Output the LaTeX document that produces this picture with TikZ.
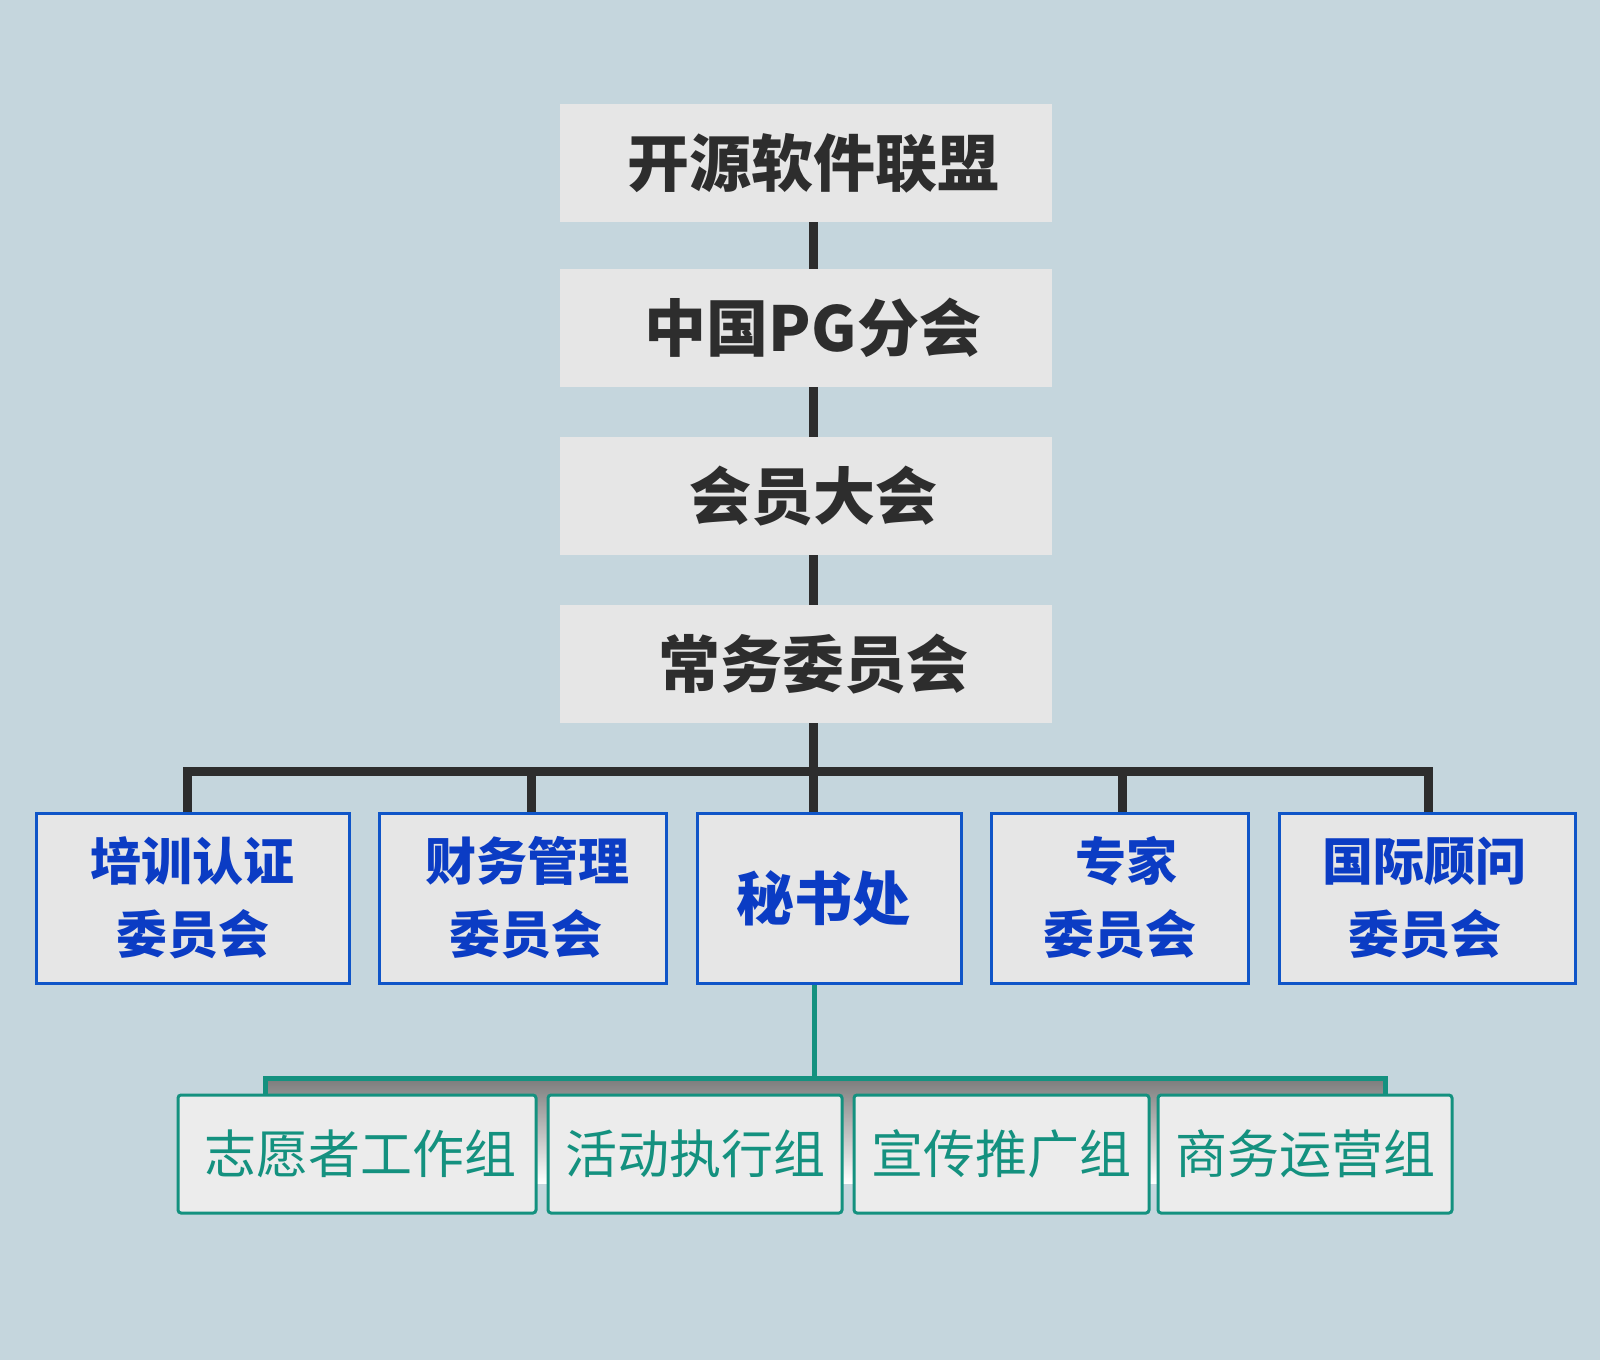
\documentclass[tikz,border=0pt]{standalone}
\usepackage{fontspec}
\setmainfont{Noto Sans CJK SC}
\definecolor{bgc}{HTML}{C5D6DD}
\definecolor{topfill}{HTML}{E6E6E6}
\definecolor{dark}{HTML}{2D2D2D}
\definecolor{blueb}{HTML}{0F55C8}
\definecolor{bluet}{HTML}{0B3CC4}
\definecolor{teal2}{HTML}{14917F}
\definecolor{tealfill}{HTML}{ECECEC}
\definecolor{shade}{HTML}{C8C8C8}
\tikzset{
  topbox/.style={fill=topfill, draw=none, minimum width=492, minimum height=118, inner sep=0pt,
    text=dark, font=\fontsize{62}{70}\selectfont\bfseries},
  midbox/.style={fill=topfill, draw=blueb, line width=3pt, minimum height=170, inner sep=0pt,
    text=bluet, align=center, font=\fontsize{51}{73}\selectfont\bfseries},
  lowbox/.style={fill=tealfill, draw=teal2, line width=3pt, rounded corners=3pt, minimum height=118, inner sep=0pt,
    text=teal2, font=\fontsize{52}{60}\selectfont},
  darkline/.style={draw=dark, line width=9pt},
  tealline/.style={draw=teal2, line width=5pt}
}
\begin{document}
\begin{tikzpicture}[x=1pt,y=-1pt]
\fill[bgc] (0,0) rectangle (1600,1360);
\useasboundingbox (0,0) rectangle (1600,1360);

% top chain
\node[topbox] (a) at (806,163) {\hspace*{14pt}开源软件联盟};
\node[topbox] (b) at (806,328) {\hspace*{14pt}中国PG分会};
\node[topbox] (c) at (806,496) {\hspace*{14pt}会员大会};
\node[topbox] (d) at (806,664) {\hspace*{14pt}常务委员会};

\coordinate (trunk) at (813.5,0);
\draw[darkline] (a.south -| trunk) -- (b.north -| trunk);
\draw[darkline] (b.south -| trunk) -- (c.north -| trunk);
\draw[darkline] (c.south -| trunk) -- (d.north -| trunk);

% committees
\coordinate (d1) at (187,771);
\coordinate (d2) at (531,771);
\coordinate (d3) at (813.5,771);
\coordinate (d4) at (1122,771);
\coordinate (d5) at (1428,771);

\node[midbox, minimum width=313] (m1) at (192.5,898) {\rule{0pt}{30pt}培训认证\\委员会};
\node[midbox, minimum width=287] (m2) at (522.5,898) {\rule{0pt}{30pt}\hspace*{10pt}财务管理\\\hspace*{6pt}委员会};
\node[midbox, minimum width=264, font=\fontsize{58}{70}\selectfont\bfseries] (m3) at (829,898) {秘书处\hspace*{12pt}};
\node[midbox, minimum width=257] (m4) at (1119.5,898) {\rule{0pt}{30pt}\hspace*{14pt}专家\\委员会};
\node[midbox, minimum width=296] (m5) at (1427,898) {\rule{0pt}{30pt}国际顾问\hspace*{6pt}\\委员会\hspace*{4pt}};

\draw[darkline] (d.south -| trunk) -- (m3.north -| d3);
\draw[darkline, line join=miter] (m1.north -| d1) -- (d1) -- (d5) -- (m5.north -| d5);
\draw[darkline] (d2) -- (m2.north -| d2);
\draw[darkline] (d4) -- (m4.north -| d4);

% working groups
\fill[shade] (265,1081) rectangle (1385,1183);
\coordinate (e1) at (265,1078);
\coordinate (e0) at (814,1078);
\coordinate (e2) at (1385,1078);

\node[lowbox, minimum width=358] (t1) at (357,1154) {\hspace*{6pt}志愿者工作组};
\node[lowbox, minimum width=294] (t2) at (695,1154) {活动执行组};
\node[lowbox, minimum width=295] (t3) at (1001.5,1154) {宣传推广组};
\node[lowbox, minimum width=294] (t4) at (1305,1154) {商务运营组};

\draw[tealline] (m3.south -| e0) -- (e0);
\draw[tealline, line join=miter] (t1.north -| e1) -- (e1) -- (e2) -- (t4.north -| e2);
\end{tikzpicture}
\end{document}
